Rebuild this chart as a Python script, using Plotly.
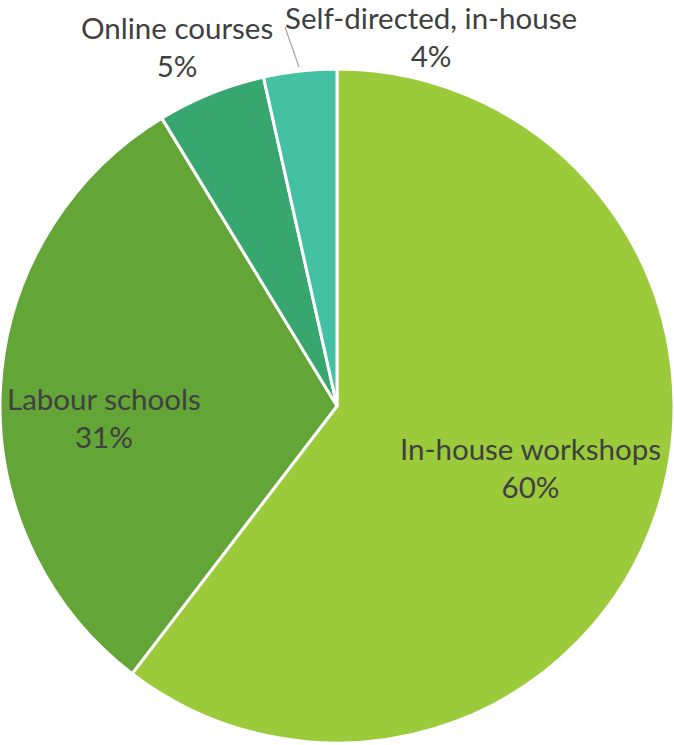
import plotly.graph_objects as go

labels = ["In-house workshops", "Labour schools", "Online courses", "Self-directed, in-house"]
values = [60.4, 30.9, 5.2, 3.5]
pct_text = ["60%", "31%", "5%", "4%"]
colors = ["#9BCB3B", "#63A537", "#37A76F", "#44C1A3"]
# label centres in picture pixels (x, y from top-left)
label_pos = [(530, 467), (104, 417), (177, 47), (431, 37)]

W, H = 674, 745
FONT = "Lato"
TXT = "#404040"
FS = 29.5

fig = go.Figure(go.Pie(
    labels=labels,
    values=values,
    textinfo="none",
    sort=False,
    direction="clockwise",
    rotation=0,
    marker=dict(colors=colors, line=dict(color="white", width=3)),
    domain=dict(x=[0, 1], y=[0, 678 / H]),
    showlegend=False,
    hoverinfo="label+percent",
))

for lab, pct, (px, py) in zip(labels, pct_text, label_pos):
    fig.add_annotation(x=px / W, y=1 - py / H, xref="paper", yref="paper",
                       xanchor="center", yanchor="middle",
                       text=f"{lab}<br>{pct}", showarrow=False,
                       font=dict(family=FONT, size=FS, color=TXT), align="center")

# leader line for the small slice
fig.add_shape(type="line", xref="paper", yref="paper",
              x0=285 / W, y0=1 - 27 / H, x1=299 / W, y1=1 - 67 / H,
              line=dict(color="#A6A6A6", width=1.2))

fig.update_layout(
    width=W, height=H,
    margin=dict(l=0, r=0, t=0, b=0),
    paper_bgcolor="white",
    plot_bgcolor="white",
)

fig.write_html("out.html", config={"displayModeBar": False},
               post_script="document.body.style.margin='0';")
